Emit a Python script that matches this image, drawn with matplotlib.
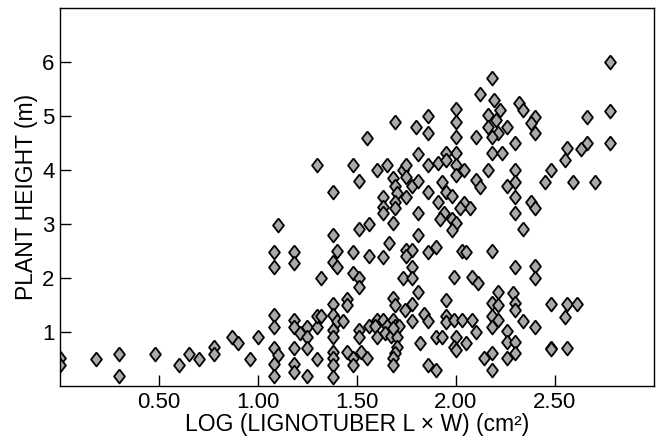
import matplotlib
matplotlib.use("Agg")
import matplotlib.pyplot as plt

plt.rcParams['font.family'] = ['Liberation Sans', 'DejaVu Sans']

# log lignotuber area, plant height (m)
log_area = [
    0.00, 0.00, 0.18, 0.30, 0.30, 0.48, 0.60, 0.65, 0.70, 0.78, 0.78, 0.87, 0.90, 0.96, 1.00,
    1.08, 1.08, 1.08, 1.08, 1.08, 1.10, 1.08, 1.08, 1.10,
    1.18, 1.18, 1.18, 1.18, 1.18, 1.18, 1.18, 1.21,
    1.25, 1.25, 1.25, 1.25, 1.30, 1.30, 1.30, 1.32, 1.32, 1.30,
    1.38, 1.38, 1.40, 1.38, 1.40,
    1.38, 1.38, 1.40, 1.38, 1.38, 1.38, 1.38, 1.38, 1.38,
    1.69, 1.86, 1.80, 1.86, 1.55, 1.81, 1.48, 1.60, 1.65, 1.73, 1.75, 1.75, 1.86, 1.91,
    1.51, 1.68, 1.69, 1.78, 1.81, 1.70, 1.63, 1.75, 1.86, 1.69, 1.63, 1.63, 1.69, 1.81,
    1.68, 1.51, 1.56, 1.81, 1.66,
    1.48, 1.56, 1.63, 1.75, 1.78, 1.75, 1.86, 1.90, 1.78, 1.73, 1.78, 1.48, 1.51, 1.51,
    1.81, 1.45, 1.45, 1.68, 1.69, 1.78, 1.74, 1.84, 1.86, 1.78, 1.43, 1.56, 1.60, 1.63,
    1.68, 1.59, 1.65, 1.69, 1.71, 1.51, 1.51, 1.60, 1.64, 1.67, 1.70, 1.68, 1.70, 1.69,
    1.68, 1.68, 1.82, 1.90, 1.45, 1.48, 1.48, 1.52, 1.55, 1.86, 1.90,
    2.18, 2.12, 2.19, 2.22, 2.32, 2.34, 2.00, 2.00, 2.16, 2.20, 2.16, 2.21, 2.26, 2.00,
    2.10, 2.18, 2.30, 2.00, 1.95, 2.18, 2.23, 1.95, 2.00, 2.04, 2.00, 2.16, 2.30, 1.93,
    2.10, 2.12, 2.30, 2.26, 1.95, 1.98, 2.30, 2.04, 2.07, 2.02, 1.94, 2.30, 1.92, 1.98,
    2.00, 1.98, 2.34, 2.18, 1.91,
    2.03, 2.05, 2.30, 1.99, 2.08, 2.11, 2.21, 2.29, 2.30, 2.30, 1.95, 2.18, 2.21, 2.18,
    2.21, 2.18, 2.34, 1.95, 1.95, 1.99, 2.03, 2.08, 2.10, 2.26, 2.26, 2.30, 2.30, 2.26,
    1.93, 2.00, 2.05, 1.99, 2.00, 2.18, 2.14, 2.18,
    2.78, 2.78, 2.78, 2.66, 2.66, 2.63, 2.56, 2.55, 2.48, 2.45, 2.59, 2.70, 2.40, 2.38,
    2.40, 2.38, 2.40,
    2.40, 2.40, 2.48, 2.56, 2.61, 2.55, 2.40, 2.48, 2.48, 2.56,
]
height = [
    0.52, 0.39, 0.50, 0.59, 0.19, 0.59, 0.39, 0.59, 0.50, 0.72, 0.59, 0.91, 0.80, 0.50, 0.91,
    2.48, 2.20, 1.31, 1.09, 0.70, 0.57, 0.41, 0.19, 2.98,
    2.48, 2.28, 1.22, 1.09, 0.70, 0.41, 0.26, 0.98,
    1.09, 0.91, 0.70, 0.19, 1.09, 1.30, 0.50, 2.00, 1.30, 4.09,
    3.59, 2.80, 2.50, 2.30, 2.20,
    1.52, 1.31, 1.20, 1.04, 0.91, 0.63, 0.52, 0.39, 0.17,
    4.89, 5.00, 4.80, 4.69, 4.59, 4.30, 4.09, 4.00, 4.09, 4.00, 4.09, 3.87, 4.09, 4.13,
    3.80, 3.85, 3.70, 3.70, 3.80, 3.57, 3.50, 3.50, 3.59, 3.41, 3.31, 3.20, 3.30, 3.20,
    3.02, 2.91, 3.00, 2.80, 2.65,
    2.48, 2.41, 2.39, 2.52, 2.52, 2.41, 2.48, 2.57, 2.20, 2.00, 2.00, 2.09, 2.00, 1.83,
    1.74, 1.61, 1.50, 1.63, 1.50, 1.52, 1.41, 1.33, 1.20, 1.20, 1.21, 1.11, 1.22, 1.22,
    1.22, 1.11, 1.11, 1.11, 1.11, 1.04, 0.91, 0.91, 0.98, 0.93, 0.91, 1.07, 0.72, 0.61,
    0.52, 0.39, 0.80, 0.91, 0.63, 0.52, 0.39, 0.63, 0.52, 0.39, 0.30,
    5.70, 5.41, 5.30, 5.11, 5.24, 5.11, 5.13, 4.89, 5.02, 4.93, 4.80, 4.69, 4.80, 4.61,
    4.61, 4.61, 4.50, 4.31, 4.31, 4.31, 4.31, 4.19, 4.09, 4.00, 3.91, 4.00, 4.00, 3.78,
    3.81, 3.69, 3.78, 3.70, 3.59, 3.52, 3.50, 3.39, 3.30, 3.30, 3.20, 3.20, 3.09, 3.09,
    3.02, 2.89, 2.91, 2.50, 3.40,
    2.50, 2.48, 2.20, 2.02, 2.02, 1.91, 1.74, 1.72, 1.54, 1.41, 1.59, 1.54, 1.50, 1.30,
    1.22, 1.09, 1.20, 1.30, 1.19, 1.22, 1.22, 1.22, 1.00, 1.02, 0.81, 0.81, 0.61, 0.52,
    0.91, 0.91, 0.80, 0.72, 0.67, 0.61, 0.52, 0.30,
    6.00, 5.09, 4.50, 4.98, 4.50, 4.39, 4.41, 4.19, 4.00, 3.78, 3.78, 3.78, 4.98, 4.87,
    4.69, 3.41, 3.30,
    2.22, 2.00, 1.52, 1.52, 1.52, 1.28, 1.09, 0.70, 0.69, 0.70,
]

x_ticks = [0.5, 1.0, 1.5, 2.0, 2.5]
x_tick_labels = ["0.50", "1.00", "1.50", "2.00", "2.50"]
y_ticks = [1, 2, 3, 4, 5, 6]

fig = plt.figure(figsize=(6.57, 4.42), dpi=100)
ax = fig.add_axes([0.0913, 0.1267, 0.9041, 0.8552])

diamond = [(0, 1), (0.78, 0), (0, -1), (-0.78, 0), (0, 1)]
ax.plot(log_area, height, linestyle="none", marker=diamond, markersize=10,
        markerfacecolor="#a9a9a9", markeredgecolor="black", markeredgewidth=1.3)

ax.set_xlim(0, 3.0)
ax.set_ylim(0, 7.0)
ax.set_xticks(x_ticks)
ax.set_xticklabels(x_tick_labels)
ax.set_yticks(y_ticks)
ax.tick_params(direction="in", length=8, width=1, labelsize=16, pad=4)
for s in ax.spines.values():
    s.set_linewidth(1)

ax.set_xlabel("LOG (LIGNOTUBER L \u00d7 W) (cm\u00b2)", fontsize=16.5, labelpad=0)
ax.set_ylabel("PLANT HEIGHT (m)", fontsize=16.5, labelpad=3)

fig.savefig("out.png", dpi=100)
